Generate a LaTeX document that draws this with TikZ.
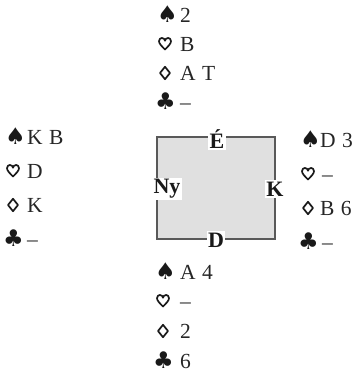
\documentclass[tikz,border=0pt]{standalone}
\usepackage{fontspec}
\setmainfont{Liberation Serif}
\newfontfamily\suitfont{DejaVu Sans}
\newcommand\spS{{\suitfont\fontsize{23}{23}\selectfont ♠}}
\newcommand\spC{{\suitfont\fontsize{23}{23}\selectfont ♣}}
\newcommand\gap{\hspace{0.3em}}
\begin{document}
\begin{tikzpicture}[x=1pt,y=-1pt,
  sym/.style={anchor=base west,inner sep=0pt,text=black!90},
  txt/.style={anchor=base west,inner sep=0pt,font=\fontsize{21.5}{21.5}\selectfont,text=black!85},
  tablebox/.style={draw=black!65,line width=1.3pt,fill=black!12,minimum width=118pt,minimum height=102pt,inner sep=0pt},
  seat/.style={fill=white,inner sep=1.5pt,font=\bfseries\fontsize{22}{22}\selectfont,text=black!90},
  suitline/.style={draw=black!90,line width=1.7pt,line join=round},
  heartpic/.pic={\path[suitline] (0,5.5) .. controls (-3.5,2) and (-6,-0.5) .. (-6,-2.8)
      .. controls (-6,-5) and (-4.5,-6) .. (-3.1,-6) .. controls (-1.5,-6) and (0,-4.8) .. (0,-3.3)
      .. controls (0,-4.8) and (1.5,-6) .. (3.1,-6) .. controls (4.5,-6) and (6,-5) .. (6,-2.8)
      .. controls (6,-0.5) and (3.5,2) .. (0,5.5) -- cycle;},
  diampic/.pic={\path[suitline] (0,-6.2) -- (5,0) -- (0,6.2) -- (-5,0) -- cycle;}]
\useasboundingbox (0,0) rectangle (362,375);
% table
\node[tablebox] (tbl) at (216,188) {};
\node[seat] (north) at (217,139) {É};
\node[seat] (west) at (167,189) {Ny};
\node[seat] (east) at (275,189) {K};
\node[seat] (south) at (216,240) {D};
% North hand
\node[sym] (ns) at (157,22) {\spS};  \node[txt] (nst) at (180,22) {2};
\pic at (165,44) {heartpic};         \node[txt] (nht) at (180,51) {B};
\pic at (165,73) {diampic};          \node[txt] (ndt) at (180,80) {A\gap T};
\node[sym] (nc) at (155,109) {\spC}; \node[txt] (nct) at (180,109) {–};
% West hand
\node[sym] (ws) at (5,144) {\spS};   \node[txt] (wst) at (27,144) {K\gap B};
\pic at (13,171) {heartpic};         \node[txt] (wht) at (27,178) {D};
\pic at (13,205) {diampic};          \node[txt] (wdt) at (27,212) {K};
\node[sym] (wc) at (3,246) {\spC};   \node[txt] (wct) at (27,246) {–};
% East hand
\node[sym] (es) at (300,147) {\spS}; \node[txt] (est) at (320,147) {D\gap 3};
\pic at (308,174) {heartpic};        \node[txt] (eht) at (322,181) {–};
\pic at (308,208) {diampic};         \node[txt] (edt) at (320,215) {B\gap 6};
\node[sym] (ec) at (298,249) {\spC}; \node[txt] (ect) at (322,249) {–};
% South hand
\node[sym] (ss) at (155,279) {\spS}; \node[txt] (sst) at (180,279) {A\gap 4};
\pic at (163,301) {heartpic};        \node[txt] (sht) at (180,308) {–};
\pic at (163,331) {diampic};         \node[txt] (sdt) at (180,338) {2};
\node[sym] (sc) at (153,368) {\spC}; \node[txt] (sct) at (180,368) {6};
\end{tikzpicture}
\end{document}
